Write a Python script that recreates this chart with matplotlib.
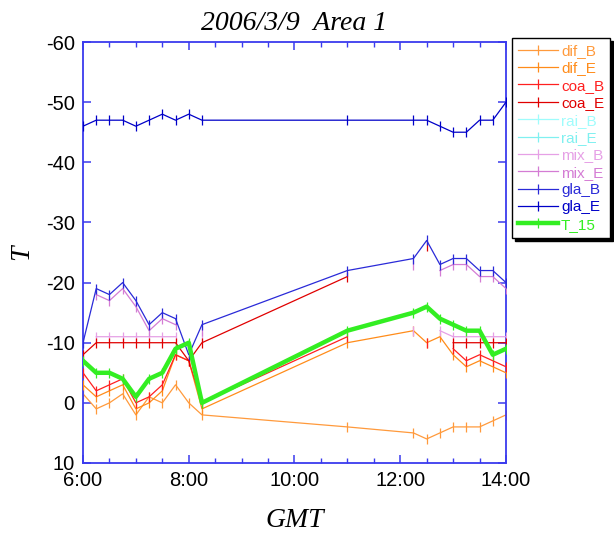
import numpy as np
import matplotlib
matplotlib.use("Agg")
import matplotlib.pyplot as plt
from matplotlib.ticker import MultipleLocator, FuncFormatter

plt.rcParams["axes.unicode_minus"] = False

nan = np.nan
times = ["6:00", "6:15", "6:30", "6:45", "7:00", "7:15", "7:30", "7:45", "8:00", "8:15",
         "11:00", "12:15", "12:30", "12:45", "13:00", "13:15", "13:30", "13:45", "14:00"]

dif_B = [-1.5, 1, 0, -1.5, 2, -1, 0, -3, 0, 2, 4, 5, 6, 5, 4, 4, 4, 3, 2]
dif_E = [-3, -1, -2, -3, 1, 0, -2, -8, -7, 1, -10, -12, -10, -11, -8, -6, -7, -6, -5]
coa_B = [-5, -2, -3, -4, 0, -1, -3, -8, -7, 0, -11, nan, -10, nan, -9, -7, -8, -7, -6]
coa_E = [-8, -10, -10, -10, -10, -10, -10, -10, -7, -10, -21, nan, -26, nan, -10, -10, -10, -10, -10]
rai_B = [nan] * 19
rai_E = [nan] * 19
mix_B = [nan, -11, -11, -11, -11, -11, -11, -11, nan, -11, nan, -12, nan, -12, -11, -11, -11, -11, -11]
mix_E = [nan, -18, -17, -19, -16, -12, -14, -13, nan, -12, nan, -23, nan, -22, -23, -23, -21, -21, -19]
gla_B = [-10, -19, -18, -20, -17, -13, -15, -14, -8, -13, -22, -24, -27, -23, -24, -24, -22, -22, -20]
gla_E = [-46, -47, -47, -47, -46, -47, -48, -47, -48, -47, -47, -47, -47, -46, -45, -45, -47, -47, -50]
T_15 = [-7, -5, -5, -4, -1, -4, -5, -9, -10, 0, -12, -15, -16, -14, -13, -12, -12, -8, -9]

series = [
    ("dif_B", dif_B, "#ff9a3c", 0.9),
    ("dif_E", dif_E, "#ff8c1a", 0.9),
    ("coa_B", coa_B, "#ff2020", 0.9),
    ("coa_E", coa_E, "#e00000", 0.9),
    ("rai_B", rai_B, "#9ffcfc", 0.9),
    ("rai_E", rai_E, "#80f0f0", 0.9),
    ("mix_B", mix_B, "#e6a0e6", 0.9),
    ("mix_E", mix_E, "#d47cd4", 0.9),
    ("gla_B", gla_B, "#2a2ad8", 0.9),
    ("gla_E", gla_E, "#0000c8", 0.9),
    ("T_15", T_15, "#33ee22", 3.2),
]

def to_hours(s):
    h, m = s.split(":")
    return int(h) + int(m) / 60.0

x = np.array([to_hours(t) for t in times])

fig = plt.figure(figsize=(6.14, 5.38), dpi=100)
ax = fig.add_axes([83 / 614, 1 - 463 / 538, (506 - 83) / 614, (463 - 42) / 538])

order = ["dif_B", "dif_E", "coa_B", "rai_B", "rai_E", "mix_B", "coa_E", "mix_E", "gla_B", "gla_E", "T_15"]
handles = {}
for name, vals, col, lw in series:
    z = order.index(name) + 2
    ln, = ax.plot(x, vals, color=col, lw=lw, marker="|", ms=7.5, mew=0.9, label=name, zorder=z)
    handles[name] = ln

ax.set_xlim(6, 14)
ax.set_ylim(10, -60)
ax.xaxis.set_major_locator(MultipleLocator(2))
ax.xaxis.set_minor_locator(MultipleLocator(0.5))
ax.xaxis.set_major_formatter(FuncFormatter(lambda v, p: f"{int(v)}:00"))
ax.yaxis.set_major_locator(MultipleLocator(10))

spine_col = "#3a3aee"
for sp in ax.spines.values():
    sp.set_color(spine_col)
    sp.set_linewidth(1.3)
ax.tick_params(axis="both", which="both", direction="in", colors=spine_col,
               labelcolor="black", top=True, right=True, labelsize=14.5)
ax.tick_params(axis="x", which="major", length=6, width=1.1, pad=6)
ax.tick_params(axis="x", which="minor", length=3.5, width=1.0)
ax.tick_params(axis="y", which="major", length=6, width=1.1, pad=6)
for lab in ax.get_xticklabels() + ax.get_yticklabels():
    lab.set_family(["Liberation Sans", "DejaVu Sans"])

serif = ["Liberation Serif", "DejaVu Serif"]
ax.set_title("2006/3/9  Area 1", fontsize=20, fontstyle="italic", family=serif, pad=9)
ax.set_xlabel("GMT", fontsize=20, fontstyle="italic", family=serif, labelpad=13)
ax.set_ylabel("T", fontsize=20, fontstyle="italic", family=serif, labelpad=8)

names = [s[0] for s in series]
leg = fig.legend([handles[n] for n in names], names,
                 loc="upper left", bbox_to_anchor=(512 / 614, 1 - 38 / 538),
                 bbox_transform=fig.transFigure, borderaxespad=0,
                 fancybox=False, shadow={"color": "black", "alpha": 1.0},
                 frameon=True, edgecolor="black", framealpha=1,
                 prop={"family": ["Liberation Sans", "DejaVu Sans"], "size": 11},
                 handlelength=2.6, handletextpad=0.2, labelspacing=0.22,
                 borderpad=0.4)
leg.get_frame().set_linewidth(1.0)
for txt, n in zip(leg.get_texts(), names):
    col = [s[2] for s in series if s[0] == n][0]
    txt.set_color(col)

fig.savefig("out.png", dpi=100)
